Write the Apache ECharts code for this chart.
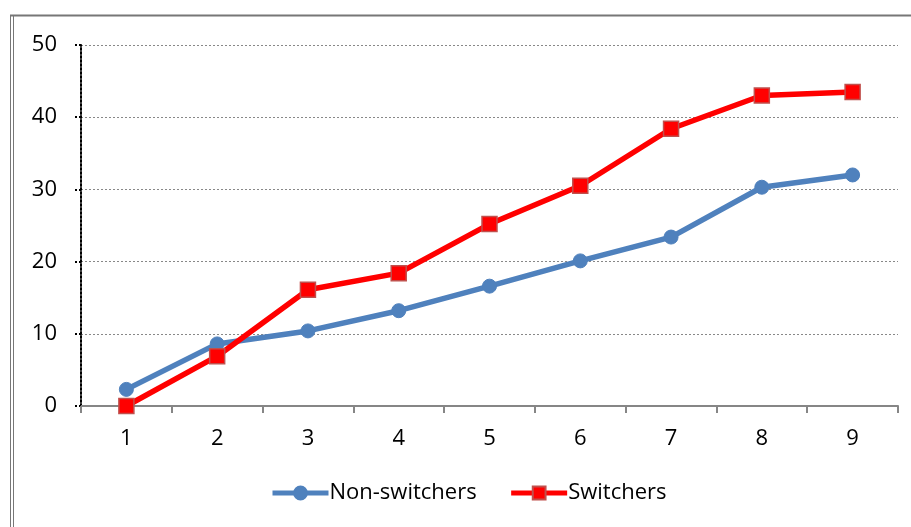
<!DOCTYPE html>
<html><head><meta charset="utf-8">
<script src="https://cdn.jsdelivr.net/npm/echarts@6/dist/echarts.min.js"></script>
<style>html,body{margin:0;padding:0;background:#fff}#c{width:911px;height:527px}</style>
</head><body><div id="c"></div>
<script>
const categories = ['1','2','3','4','5','6','7','8','9'];
const nonSwitchers = [2.3, 8.6, 10.4, 13.2, 16.6, 20.1, 23.4, 30.3, 32.0];
const switchers = [0.0, 6.9, 16.1, 18.4, 25.2, 30.5, 38.4, 43.0, 43.5];
const seriesNames = ['Non-switchers', 'Switchers'];

const font = '"Open Sans", Lato, sans-serif';
const chart = echarts.init(document.getElementById('c'));
chart.setOption({
  animation: false,
  backgroundColor: '#fff',
  textStyle: {fontFamily: font},
  grid: {left: 81, right: 13, top: 45, bottom: 121, containLabel: false},
  graphic: [
    {type: 'line', shape: {x1: 10.5, y1: 15, x2: 10.5, y2: 527}, style: {stroke: '#777', lineWidth: 1}},
    {type: 'line', shape: {x1: 13.5, y1: 16, x2: 13.5, y2: 527}, style: {stroke: '#777', lineWidth: 1}},
    {type: 'line', shape: {x1: 10, y1: 15.5, x2: 911, y2: 15.5}, style: {stroke: '#777', lineWidth: 2}}
  ],
  legend: {
    bottom: 18, left: 265,
    itemWidth: 56, itemHeight: 16, itemGap: 32,
    textStyle: {fontSize: 22, color: '#000', fontFamily: font, padding: [0,0,0,-4]},
    data: [
      {name: seriesNames[0], lineStyle: {width: 5}},
      {name: seriesNames[1], lineStyle: {width: 5}}
    ]
  },
  xAxis: {
    type: 'category', data: categories, boundaryGap: true,
    axisLine: {lineStyle: {color: '#868686', width: 2}},
    axisTick: {show: true, length: 7, lineStyle: {color: '#868686', width: 2}},
    axisLabel: {fontSize: 22, color: '#000', margin: 22, fontFamily: font},
    splitLine: {show: false}
  },
  yAxis: {
    type: 'value', min: 0, max: 50, interval: 10,
    axisLine: {show: true, lineStyle: {color: '#000', type: 'dotted', width: 2}},
    axisTick: {show: true, length: 6, lineStyle: {color: '#000', type: 'dotted', width: 2}},
    axisLabel: {fontSize: 22, color: '#000', margin: 24, fontFamily: font},
    splitLine: {show: true, lineStyle: {color: '#888', type: [2, 2], width: 1}}
  },
  series: [
    {
      name: seriesNames[0], type: 'line', data: nonSwitchers,
      symbol: 'circle', symbolSize: 14,
      lineStyle: {color: '#4F81BD', width: 5.5},
      itemStyle: {color: '#4F81BD', borderColor: '#4F81BD', borderWidth: 1},
      z: 2
    },
    {
      name: seriesNames[1], type: 'line', data: switchers,
      symbol: 'rect', symbolSize: 15,
      lineStyle: {color: '#FF0000', width: 5.5},
      itemStyle: {color: '#FF0000', borderColor: '#C0504D', borderWidth: 1.5},
      z: 3
    }
  ]
});
</script></body></html>
